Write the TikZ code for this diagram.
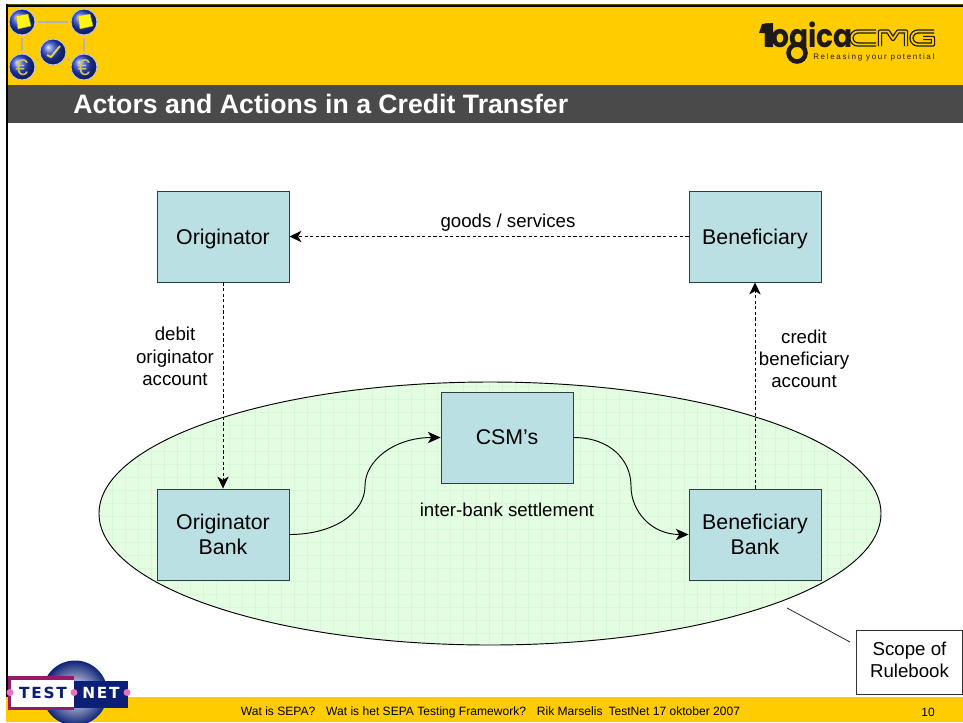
\documentclass[tikz,border=0pt]{standalone}
\usepackage{fontspec}
\usepackage{graphicx}
\setmainfont{Liberation Sans}
\newfontfamily\logofont{Poppins}
\newfontfamily\wide{DejaVu Sans}
\usetikzlibrary{arrows.meta,shadings}
\definecolor{hdr}{HTML}{FFCC00}
\definecolor{band}{HTML}{4A4A4A}
\definecolor{boxfill}{HTML}{BBE0E3}
\definecolor{boxline}{HTML}{2F3F40}
\definecolor{ellfill}{HTML}{E4FCE2}
\definecolor{ellgrid}{HTML}{D6F8D6}
\definecolor{navy}{HTML}{0A1F75}
\definecolor{magent}{HTML}{98186E}
\definecolor{pinkdot}{HTML}{E870C0}
\definecolor{ink}{HTML}{1E1A18}
\definecolor{ballblue}{HTML}{2440C8}
\tikzset{
  x=0.75pt,y=-0.75pt,
  actor/.style={draw=boxline,line width=0.65pt,fill=boxfill,minimum width=99pt,minimum height=68.25pt,inner sep=0pt,align=center,font=\fontsize{16}{19}\selectfont},
  lab/.style={align=center,inner sep=0pt,font=\fontsize{14}{16.7}\selectfont},
  dashconn/.style={dash pattern=on 2.4pt off 1.8pt,line width=0.75pt,-{Stealth[length=9pt,width=8.5pt,inset=2.5pt]}},
  curveconn/.style={line width=0.7pt,-{Stealth[length=9.5pt,width=8.5pt,inset=2.5pt]}},
  ball/.style={circle,minimum size=19.5pt,inner sep=0pt,ball color=ballblue,draw=white!70!ballblue,line width=0.7pt},
  iconlink/.style={draw=black!30,line width=1.3pt,shorten >=2pt,shorten <=2pt},
  euro/.style={inner sep=0pt,text=yellow!55!gray,font=\fontsize{17}{17}\selectfont},
  flagpaper/.style={fill=yellow!90!white,draw=yellow!60!black,line width=0.3pt},
  cmgstroke/.style={draw=ink,line width=1pt,double=hdr,double distance=1.3pt,line join=round},
  tn/.style={inner sep=0pt,font=\wide\bfseries\fontsize{11.5}{12}\selectfont},
}
\begin{document}
\begin{tikzpicture}
\useasboundingbox (0,0) rectangle (963,722);
\fill[white] (0,0) rectangle (963,722);
% slide frame
\fill[hdr] (6,7) rectangle (963,85);
\fill[band] (6,85) rectangle (963,123);
\fill[hdr] (6,697) rectangle (963,722);
\fill[black] (6,5) rectangle (963,7);
\fill[black!60!hdr] (6,4) rectangle (963,5);
\fill[black] (6,4) rectangle (8,697);
\node[anchor=west,inner sep=0pt,text=white,font=\bfseries\fontsize{20}{24}\selectfont] (title) at (73,104) {Actors and Actions in a Credit Transfer};
% icon logo
\node[ball] (i1) at (22,22) {};
\node[ball] (i2) at (84,22) {};
\node[ball] (i3) at (22,67) {};
\node[ball] (i4) at (84,67) {};
\node[ball] (i5) at (53,52) {};
\draw[iconlink] (i1)--(i2);
\draw[iconlink] (i1)--(i3);
\draw[iconlink] (i2)--(i4);
\draw[iconlink] (i5)--(i3);
\draw[iconlink] (i5)--(i4);
\fill[flagpaper] (16,16)--(28,14)--(31,26)--(18,29)--cycle;
\fill[flagpaper] (78,16)--(90,14)--(93,26)--(80,29)--cycle;
\node[euro] at (22,68) {€};
\node[euro] at (84,68) {€};
\draw[yellow!70!gray,line width=1.5pt] (47,55)--(51,57)--(60,46);
% logicaCMG logo
\node[anchor=base west,inner sep=0pt,text=ink,font=\logofont\bfseries\fontsize{24}{24}\selectfont] (logica) at (763,47) {\scalebox{0.88}[1]{logica}};
\fill[ink] (759,33)--(762,24)--(773,23)--(773,47)--(767,47)--(767,33)--cycle;
\fill[hdr] (786,48) rectangle (812,66);
\draw[ink,line width=3.4pt] (797,53) circle[radius=8.5];
\draw[cmgstroke] (876,31.5)--(858,31.5) arc[start angle=270,end angle=90,radius=6.5]--(876,44.5);
\draw[cmgstroke] (880,46)--(880,31.5)--(888,31.5)--(893,39)--(898,31.5)--(906,31.5)--(906,46);
\draw[cmgstroke] (934,31.5)--(918,31.5) arc[start angle=270,end angle=90,radius=6.5]--(933,44.5)--(933,38)--(923,38);
\node[anchor=base west,inner sep=0pt,text=ink,font=\fontsize{6}{7}\selectfont] (tag) at (813,59) {\addfontfeatures{LetterSpace=21}Releasing your potential};
% scope ellipse
\begin{scope}
\clip (490,513.5) ellipse[x radius=391,y radius=131.5];
\fill[ellfill] (99,382) rectangle (881,645);
\foreach \g in {99,112,...,881} \draw[ellgrid,line width=0.5pt] (\g,382)--(\g,645);
\foreach \g in {386,399,...,645} \draw[ellgrid,line width=0.5pt] (99,\g)--(881,\g);
\end{scope}
\draw[black,line width=0.7pt] (490,513.5) ellipse[x radius=391,y radius=131.5];
% actors
\node[actor] (orig) at (223,236.5) {\raisebox{-6pt}[0pt][0pt]{Originator}};
\node[actor] (benef) at (755,236.5) {\raisebox{-6pt}[0pt][0pt]{Beneficiary}};
\node[actor] (csm) at (507,437.5) {CSM’s};
\node[actor] (obank) at (223,534.5) {Originator\\Bank};
\node[actor] (bbank) at (755,534.5) {Beneficiary\\Bank};
% connectors
\draw[dashconn] (benef.west)--(orig.east);
\draw[dashconn] (orig.south)--(obank.north);
\draw[dashconn] (bbank.north)--(benef.south);
\draw[curveconn] (obank.east) .. controls (335,534.5) and (365,512) .. (365,486) .. controls (365,460) and (395,437.5) .. (csm.west);
\draw[curveconn] (csm.east) .. controls (610,437.5) and (631,460) .. (631,486) .. controls (631,512) and (652,534.5) .. (bbank.west);
% labels
\node[lab] (l1) at (508,222.5) {goods / services};
\node[lab] (l2) at (175,356.5) {debit\\originator\\account};
\node[lab] (l3) at (804,359) {credit\\beneficiary\\account};
\node[lab] (l4) at (507,510) {inter-bank settlement};
% scope label
\node[draw=black!80,line width=0.7pt,fill=white,minimum width=79pt,minimum height=48pt,inner sep=0pt] (scope) at (909.5,662) {};
\node[lab] (scopetext) at (909.5,659.5) {Scope of\\Rulebook};
\coordinate (sa) at (787,608);
\coordinate (sb) at (850,642);
\draw[black!85,line width=0.6pt] (sa)--(sb);
% footer
\node[inner sep=0pt,font=\fontsize{9.05}{10}\selectfont] (foot) at (490.5,712.5) {Wat is SEPA?\hspace{0.9em}Wat is het SEPA Testing Framework?\hspace{0.9em}Rik Marselis\hspace{0.5em}TestNet 17 oktober 2007};
\node[inner sep=0pt,font=\fontsize{9}{10}\selectfont] (pg) at (928,712.5) {10};
% TestNet logo
\begin{scope}
\clip (75,693) circle[radius=32.5];
\clip (0,640) rectangle (963,722);
\shade[inner color=white,middle color=blue!60!navy,outer color=navy] (42,660) rectangle (108,726);
\end{scope}
\fill[magent] (8,676) rectangle (74,710);
\fill[white] (11,680) rectangle (74,707);
\fill[navy] (74,681) rectangle (128,708);
\node[tn,text=navy] (tnl) at (43,692.5) {\addfontfeatures{LetterSpace=12}TEST};
\node[tn,text=white] (tnr) at (101,692.5) {\addfontfeatures{LetterSpace=12}NET};
\foreach \p in {10,74,127} \fill[pinkdot] (\p,692.5) circle[radius=3.5];
\end{tikzpicture}
\end{document}
